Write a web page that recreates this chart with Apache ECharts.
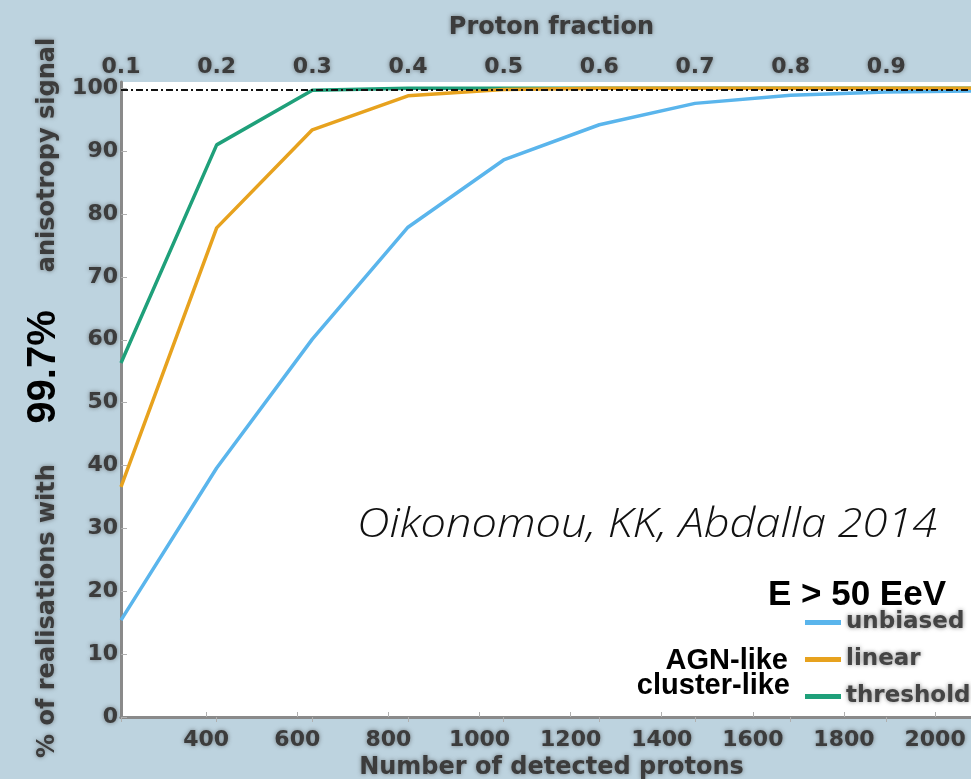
<!DOCTYPE html>
<html>
<head>
<meta charset="utf-8">
<script src="https://cdn.jsdelivr.net/npm/echarts@6/dist/echarts.min.js"></script>
<style>
  html, body { margin: 0; padding: 0; background: #bdd3df; }
  #chart { width: 971px; height: 779px; }
</style>
</head>
<body>
<div id="chart"></div>
<script>
// Proton fraction on the top axis; each curve is sampled at these fractions
const fractions = [0.1, 0.2, 0.3, 0.4, 0.5, 0.6, 0.7, 0.8, 0.9, 1.0];

// % of realisations with a 99.7% anisotropy signal
const unbiased  = [15.4, 39.6, 60.1, 77.9, 88.6, 94.2, 97.6, 98.9, 99.4, 99.6];
const linear    = [36.6, 77.8, 93.4, 98.8, 99.8, 100, 100, 100, 100, 100];
const threshold = [56.3, 91.0, 99.7, 100, 100, 100, 100, 100, 100, 100];

// Significance level drawn as the dash-dot reference line
const confidenceLevel = 99.7;

// Bottom axis: number of detected protons
const protonTicks = [400, 600, 800, 1000, 1200, 1400, 1600, 1800, 2000];
const protonRange = [213, 2103];

const seriesNames = ['unbiased', 'linear', 'threshold'];

const axisText = {
  fontFamily: 'DejaVu Sans',
  fontWeight: 'bold',
  color: '#3c3c3c',
  textShadowColor: 'rgba(60,60,60,0.6)',
  textShadowBlur: 4
};

const sideTitle = {
  fontSize: 24, align: 'center', verticalAlign: 'middle', fill: '#3c3c3c',
  fontFamily: 'DejaVu Sans', fontWeight: 'bold',
  textShadowColor: 'rgba(60,60,60,0.6)', textShadowBlur: 4
};

const pairs = ys => fractions.map((f, i) => [f, ys[i]]);

const chart = echarts.init(document.getElementById('chart'), null, { renderer: 'canvas' });

const option = {
  backgroundColor: '#bdd3df',
  animation: false,
  grid: {
    left: 121, top: 82, right: -11, bottom: 62,
    containLabel: false, outerBoundsMode: 'none',
    show: true, backgroundColor: '#ffffff', borderWidth: 0
  },
  xAxis: [
    {
      type: 'value',
      position: 'top',
      min: 0.1, max: 1.0, interval: 0.1,
      name: 'Proton fraction',
      nameLocation: 'middle',
      nameGap: 42,
      nameTextStyle: Object.assign({ fontSize: 24 }, axisText),
      axisLine: { show: true, lineStyle: { color: '#8a8a8a', width: 3 } },
      axisTick: { show: true, inside: true, length: 5, lineStyle: { color: '#b0b0b0', width: 1 } },
      axisLabel: Object.assign({
        fontSize: 22, margin: 4, showMaxLabel: false,
        formatter: v => v.toFixed(1)
      }, axisText),
      splitLine: { show: false }
    },
    {
      type: 'value',
      position: 'bottom',
      min: protonRange[0], max: protonRange[1],
      name: 'Number of detected protons',
      nameLocation: 'middle',
      nameGap: 36,
      nameTextStyle: Object.assign({ fontSize: 24 }, axisText),
      axisLine: { show: true, lineStyle: { color: '#8a8a8a', width: 3 } },
      axisTick: { show: true, inside: true, length: 5, customValues: protonTicks, lineStyle: { color: '#b0b0b0', width: 1 } },
      axisLabel: Object.assign({
        fontSize: 22, margin: 12, customValues: protonTicks,
        formatter: v => String(v)
      }, axisText),
      splitLine: { show: false }
    }
  ],
  yAxis: {
    type: 'value',
    min: 0, max: 101, interval: 10,
    axisLine: { show: true, lineStyle: { color: '#8a8a8a', width: 3 } },
    axisTick: { show: true, inside: true, length: 6, lineStyle: { color: '#b0b0b0', width: 1 } },
    axisLabel: Object.assign({ fontSize: 22, margin: 3, showMaxLabel: false }, axisText),
    splitLine: { show: false }
  },
  legend: {
    data: seriesNames,
    orient: 'vertical',
    left: 805, top: 611, padding: 0,
    icon: 'rect',
    itemWidth: 36, itemHeight: 5, itemGap: 14,
    textStyle: Object.assign({ fontSize: 23, lineHeight: 22 }, axisText, { color: '#444' })
  },
  series: [
    {
      name: 'unbiased', type: 'line', xAxisIndex: 0, data: pairs(unbiased),
      symbol: 'none', color: '#5ab5ec',
      lineStyle: { width: 3.5 }, z: 2
    },
    {
      name: 'threshold', type: 'line', xAxisIndex: 0, data: pairs(threshold),
      symbol: 'none', color: '#1fa07a',
      lineStyle: { width: 3.5 }, z: 3
    },
    {
      name: 'linear', type: 'line', xAxisIndex: 0, data: pairs(linear),
      symbol: 'none', color: '#e7a21e',
      lineStyle: { width: 3.5 }, z: 4
    },
    {
      name: 'level', type: 'line', xAxisIndex: 0, data: [], z: 6, silent: true,
      markLine: {
        silent: true, symbol: 'none', label: { show: false },
        lineStyle: { color: '#111', width: 2, type: [7, 3, 2, 3] },
        data: [{ yAxis: confidenceLevel }]
      }
    }
  ],
  graphic: [
    {
      type: 'text', x: 48, y: 611, rotation: Math.PI / 2,
      style: Object.assign({ text: '% of realisations with' }, sideTitle)
    },
    {
      type: 'text', x: 48, y: 155, rotation: Math.PI / 2,
      style: Object.assign({ text: 'anisotropy signal' }, sideTitle)
    },
    {
      type: 'text', x: 44, y: 367, rotation: Math.PI / 2,
      style: { text: '99.7%', fontSize: 40, align: 'center', verticalAlign: 'middle', fill: '#000', fontFamily: 'Liberation Sans', fontWeight: 'bold' }
    },
    {
      type: 'text', x: 357, y: 526, scaleX: 1.13,
      style: { text: 'Oikonomou, KK, Abdalla 2014', fontSize: 40, fontStyle: 'italic', fontWeight: 300, fontFamily: 'Open Sans', align: 'left', verticalAlign: 'middle', fill: '#111' }
    },
    {
      type: 'text', x: 946, y: 595,
      style: { text: 'E > 50 EeV', fontSize: 35, fontWeight: 'bold', fontFamily: 'Liberation Sans', align: 'right', verticalAlign: 'middle', fill: '#000' }
    },
    {
      type: 'text', x: 788, y: 661,
      style: { text: 'AGN-like', fontSize: 29, fontWeight: 'bold', fontFamily: 'Liberation Sans', align: 'right', verticalAlign: 'middle', fill: '#000' }
    },
    {
      type: 'text', x: 790, y: 686,
      style: { text: 'cluster-like', fontSize: 29, fontWeight: 'bold', fontFamily: 'Liberation Sans', align: 'right', verticalAlign: 'middle', fill: '#000' }
    }
  ]
};

chart.setOption(option);
</script>
</body>
</html>
